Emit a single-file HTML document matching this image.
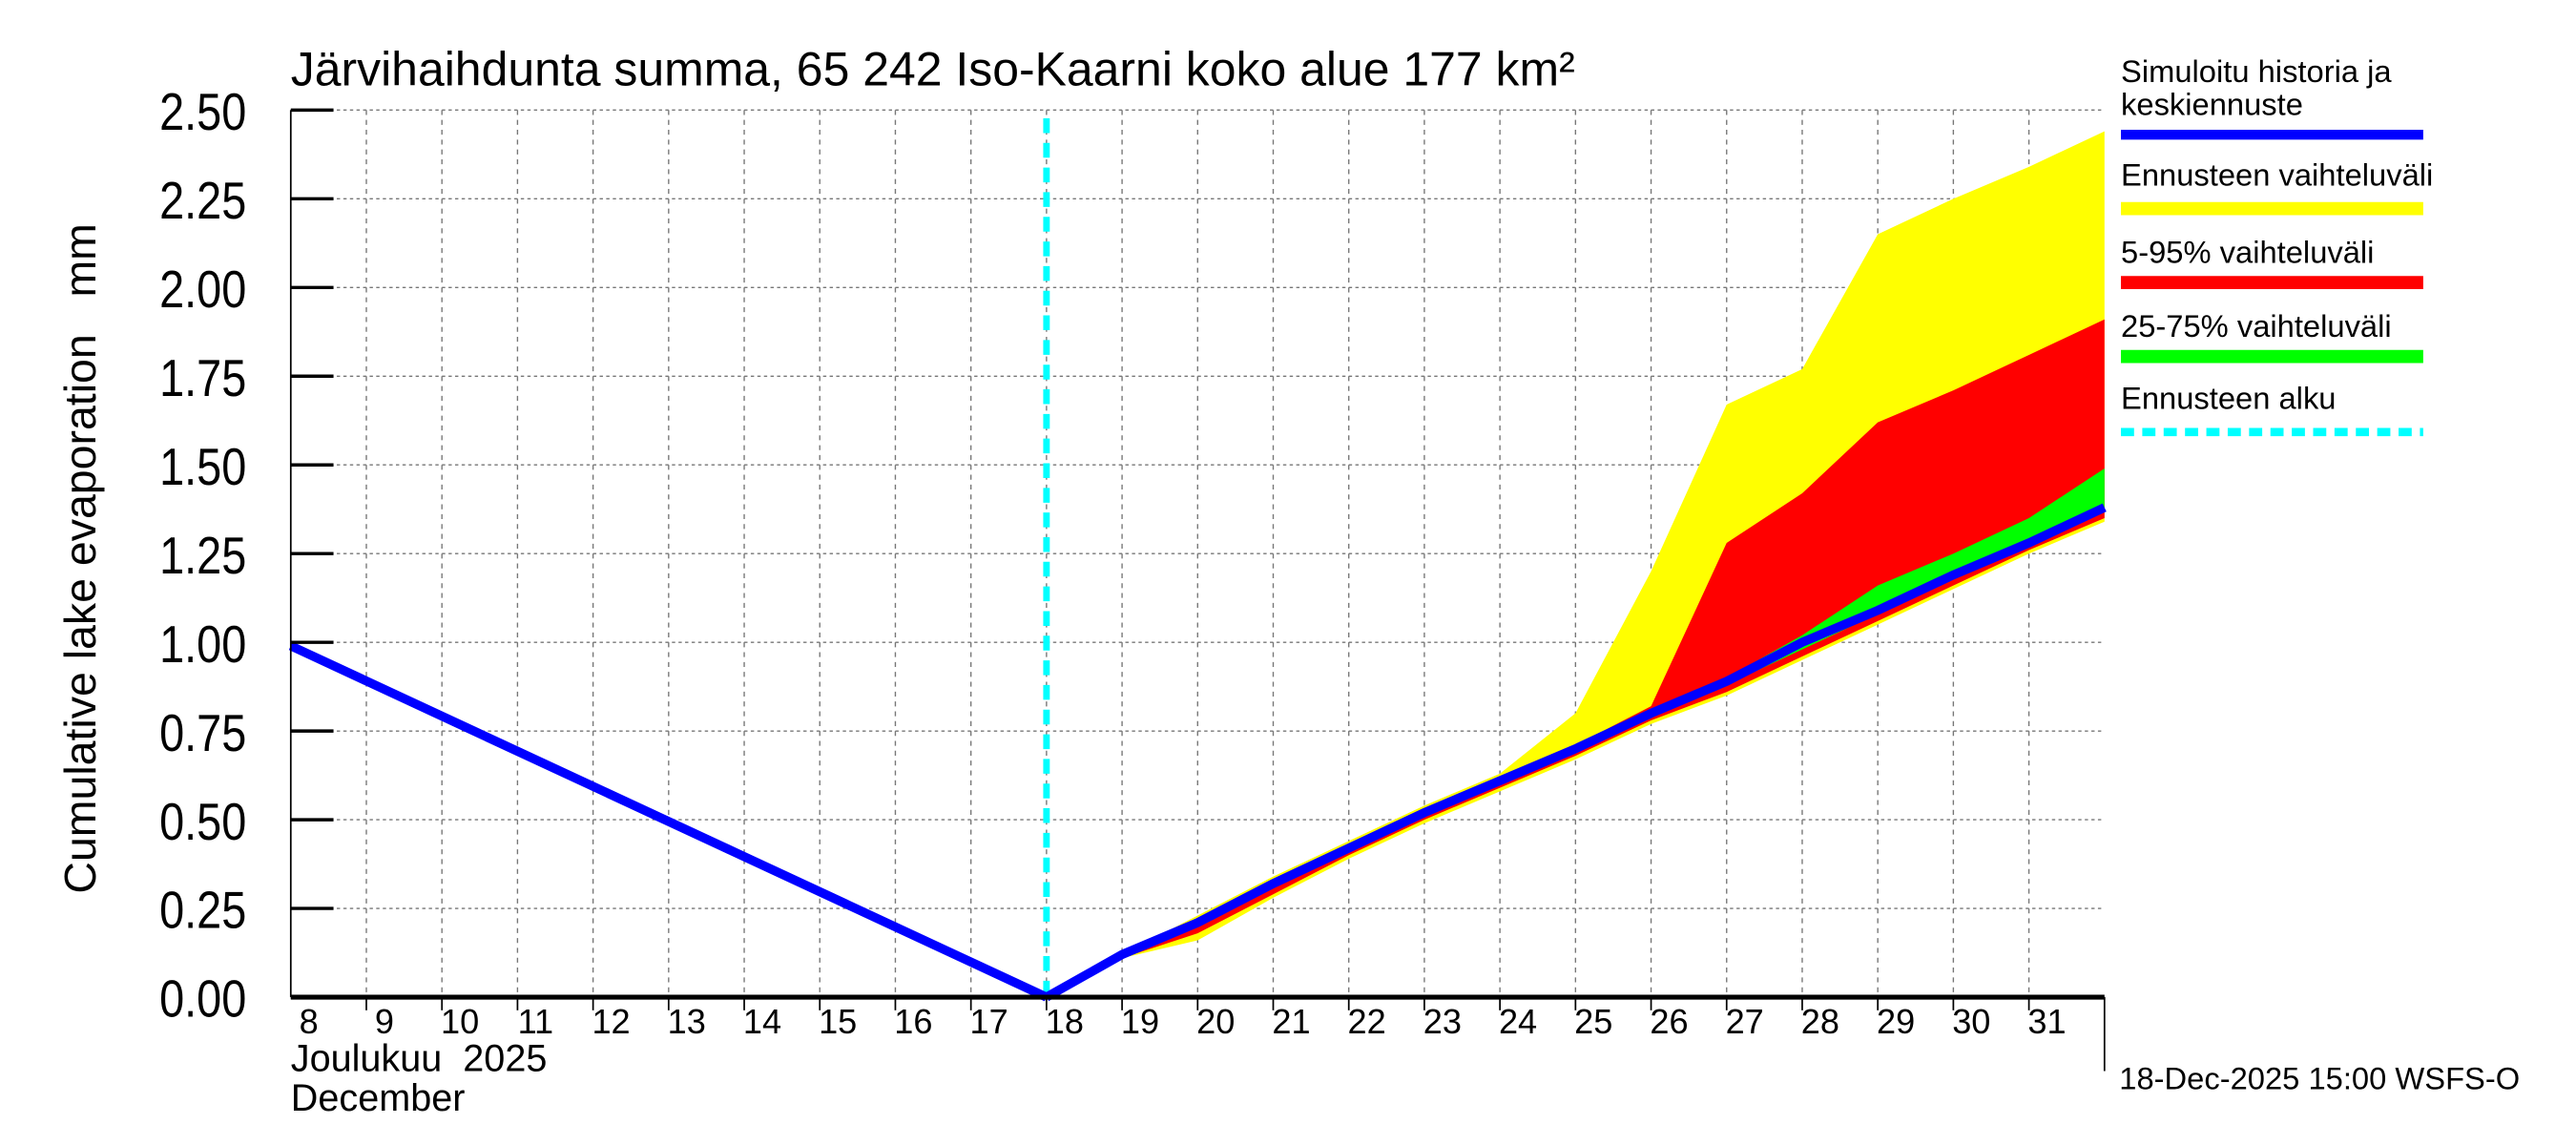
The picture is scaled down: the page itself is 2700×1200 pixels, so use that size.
<!DOCTYPE html>
<html><head><meta charset="utf-8"><style>html,body{margin:0;padding:0;background:#fff}svg{display:block}</style></head>
<body>
<svg id="chart" width="2700" height="1200" viewBox="0 0 1568 697" preserveAspectRatio="none" xmlns="http://www.w3.org/2000/svg" font-family="Liberation Sans, sans-serif">
<rect width="1568" height="697" fill="#fff"/>
<g id="grid"></g>
<g id="bands"></g>
<g id="lines"></g>
<g id="axes"></g>
<text x="177" y="52" font-size="29">Järvihaihdunta summa, 65 242 Iso-Kaarni koko alue 177 km²</text>
<text transform="translate(58,340) rotate(-90)" text-anchor="middle" font-size="27" style="white-space:pre">Cumulative lake evaporation   mm</text>
<text x="177" y="652" font-size="23" style="white-space:pre">Joulukuu  2025</text>
<text x="177" y="676" font-size="23">December</text>
<text x="1290" y="663" font-size="19">18-Dec-2025 15:00 WSFS-O</text>
<g font-size="19">
<text x="1291" y="50">Simuloitu historia ja</text>
<text x="1291" y="70">keskiennuste</text>
<line x1="1291" y1="82" x2="1475" y2="82" stroke="#0000ff" stroke-width="6"/>
<text x="1291" y="113">Ennusteen vaihteluväli</text>
<line x1="1291" y1="127" x2="1475" y2="127" stroke="#ffff00" stroke-width="8"/>
<text x="1291" y="160">5-95% vaihteluväli</text>
<line x1="1291" y1="172" x2="1475" y2="172" stroke="#ff0000" stroke-width="8"/>
<text x="1291" y="205">25-75% vaihteluväli</text>
<line x1="1291" y1="217" x2="1475" y2="217" stroke="#00ff00" stroke-width="8"/>
<text x="1291" y="249">Ennusteen alku</text>
<line x1="1291" y1="263" x2="1475" y2="263" stroke="#00ffff" stroke-width="5" stroke-dasharray="8,5"/>
</g>
</svg>
<script>
const days = ["8","9","10","11","12","13","14","15","16","17","18","19","20","21","22","23","24","25","26","27","28","29","30","31"];
const yTicks = [0,0.25,0.5,0.75,1,1.25,1.5,1.75,2,2.25,2.5];
const yTickLabels = ["0.00","0.25","0.50","0.75","1.00","1.25","1.50","1.75","2.00","2.25","2.50"];
const historyDays = [0,10];
const historyVals = [0.99,0];
const fcDays = [10,11,12,13,14,15,16,17,18,19,20,21,22,23,24];
const median = [0,0.12,0.21,0.32,0.42,0.52,0.61,0.70,0.80,0.89,1.00,1.09,1.19,1.28,1.38];
const yellowHi = [0,0.12,0.23,0.34,0.44,0.54,0.63,0.80,1.20,1.67,1.77,2.15,2.25,2.34,2.44];
const yellowLo = [0,0.11,0.16,0.28,0.39,0.49,0.58,0.67,0.77,0.85,0.95,1.05,1.15,1.25,1.34];
const redHi = [0,0.12,0.21,0.32,0.42,0.52,0.61,0.71,0.82,1.28,1.42,1.62,1.71,1.81,1.91];
const redLo = [0,0.11,0.18,0.29,0.40,0.50,0.59,0.68,0.78,0.86,0.96,1.06,1.16,1.26,1.35];
const greenHi = [0,0.12,0.21,0.32,0.42,0.52,0.61,0.70,0.80,0.90,1.02,1.16,1.25,1.35,1.49];
const greenLo = [0,0.12,0.20,0.31,0.41,0.51,0.60,0.69,0.79,0.88,0.98,1.08,1.18,1.28,1.37];
const forecastStart = 10;

const X0=177,X1=1281,Y0=607,Y1=67,NS="http://www.w3.org/2000/svg";
const xs=d=>X0+d*(X1-X0)/24;
const ys=v=>Y0-v*(Y0-Y1)/2.5;
function mk(tag,attrs,parent){const e=document.createElementNS(NS,tag);for(const k in attrs)e.setAttribute(k,attrs[k]);parent.appendChild(e);return e;}
const grid=document.getElementById('grid'),bands=document.getElementById('bands'),lines=document.getElementById('lines'),axes=document.getElementById('axes');
yTicks.forEach((v,i)=>{
  if(v>0){const g=mk('line',{x1:X0,x2:X1,y1:ys(v),y2:ys(v),stroke:'#777','stroke-width':0.8,'stroke-dasharray':'2,2'},grid);
  
  }
  const t=mk('line',{x1:X0,x2:X0+26,y1:ys(v),y2:ys(v),stroke:'#000','stroke-width':2},axes);
  
  
  const l=mk('text',{x:150,y:ys(v)+12,'text-anchor':'end','font-size':32,transform:'translate(150,0) scale(0.85,1) translate(-150,0)'},axes);l.textContent=yTickLabels[i];
  
  
});
days.forEach((d,i)=>{
  if(i>0){const g=mk('line',{x1:xs(i),x2:xs(i),y1:Y1,y2:Y0,stroke:'#777','stroke-width':0.8,'stroke-dasharray':'3,3'},grid);
  
  
  const t=mk('line',{x1:xs(i),x2:xs(i),y1:Y0,y2:Y0+8,stroke:'#000','stroke-width':1},axes);
  
  }
  const l=mk('text',{x:xs(i+0.5)-12,y:629,'text-anchor':'middle','font-size':21},axes);l.textContent=d;
  
  
});
function band(hi,lo,color,name){
  let p=fcDays.map((d,i)=>xs(d)+','+ys(hi[i]));
  for(let i=fcDays.length-1;i>=0;i--)p.push(xs(fcDays[i])+','+ys(lo[i]));
  const e=mk('polygon',{points:p.join(' '),fill:color},bands);
  
  
}
band(yellowHi,yellowLo,'#ffff00','band-full-range');
band(redHi,redLo,'#ff0000','band-5-95');
band(greenHi,greenLo,'#00ff00','band-25-75');
const fl=mk('line',{x1:xs(forecastStart),x2:xs(forecastStart),y1:Y1+5,y2:Y0,stroke:'#00ffff','stroke-width':4,'stroke-dasharray':'9,6'},lines);


const h=mk('polyline',{points:historyDays.map((d,i)=>xs(d)+','+ys(historyVals[i])).join(' '),fill:'none',stroke:'#0000ff','stroke-width':5.5},lines);


const m=mk('polyline',{points:fcDays.map((d,i)=>xs(d)+','+ys(median[i])).join(' '),fill:'none',stroke:'#0000ff','stroke-width':5.5},lines);


const la=mk('line',{x1:X0,x2:X0,y1:Y1,y2:Y0,stroke:'#000','stroke-width':1},axes);


const ba=mk('line',{x1:X0,x2:X1,y1:Y0,y2:Y0,stroke:'#000','stroke-width':3},axes);


const ra=mk('line',{x1:X1,x2:X1,y1:Y0,y2:652,stroke:'#000','stroke-width':1},axes);


</script>
</body></html>
